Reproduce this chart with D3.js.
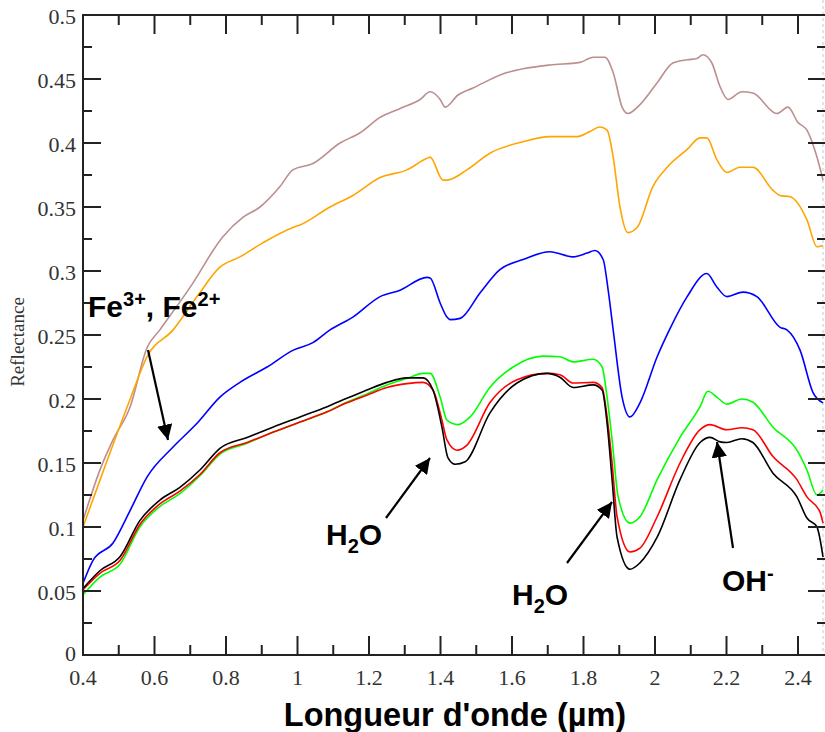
<!DOCTYPE html>
<html>
<head>
<meta charset="utf-8">
<script src="https://cdn.jsdelivr.net/npm/d3@7"></script>
<style>
	body { margin: 0; background: #fff; }
	svg { display: block; }
	.tick-label { font-family: "Liberation Serif", "Times New Roman", serif; font-size: 22px; fill: #333; }
	.note { font-family: "Liberation Sans", Arial, sans-serif; font-weight: 700; fill: #000; }
</style>
</head>
<body>
<div id="chart"></div>
<script>
// spectra: [wavelength (µm), reflectance]
const brown = [
	[0.4, 0.105], [0.448, 0.145], [0.484, 0.168], [0.532, 0.194], [0.579, 0.24], [0.615, 0.254],
	[0.699, 0.287], [0.792, 0.327], [0.848, 0.342], [0.895, 0.35], [0.951, 0.366], [0.987, 0.379],
	[1.043, 0.384], [1.119, 0.4], [1.175, 0.408], [1.231, 0.42], [1.287, 0.427], [1.343, 0.434],
	[1.371, 0.44], [1.399, 0.434], [1.413, 0.428], [1.449, 0.4375], [1.491, 0.443], [1.586, 0.455],
	[1.631, 0.458], [1.706, 0.461], [1.79, 0.463], [1.827, 0.467], [1.86, 0.467], [1.883, 0.455],
	[1.908, 0.428], [1.924, 0.423], [1.958, 0.43], [2.006, 0.447], [2.05, 0.4625], [2.09, 0.465],
	[2.117, 0.466], [2.134, 0.469], [2.159, 0.4625], [2.182, 0.444], [2.204, 0.434], [2.243, 0.44],
	[2.274, 0.439], [2.341, 0.423], [2.372, 0.428], [2.4, 0.416], [2.425, 0.41], [2.453, 0.389],
	[2.47, 0.371]
];
const orange = [
	[0.4, 0.1], [0.448, 0.137], [0.532, 0.2], [0.579, 0.233], [0.652, 0.254], [0.719, 0.28],
	[0.783, 0.303], [0.839, 0.311], [0.903, 0.322], [0.987, 0.334], [1.007, 0.336], [1.091, 0.35],
	[1.155, 0.359], [1.231, 0.373], [1.306, 0.379], [1.362, 0.388], [1.371, 0.389], [1.407, 0.371],
	[1.418, 0.371], [1.474, 0.379], [1.538, 0.392], [1.631, 0.401], [1.706, 0.405], [1.782, 0.405],
	[1.818, 0.409], [1.846, 0.4125], [1.866, 0.41], [1.883, 0.389], [1.902, 0.35], [1.924, 0.33],
	[1.95, 0.334], [1.994, 0.366], [2.034, 0.381], [2.09, 0.395], [2.126, 0.404], [2.145, 0.404],
	[2.173, 0.387], [2.201, 0.377], [2.238, 0.381], [2.274, 0.381], [2.33, 0.363], [2.35, 0.359],
	[2.378, 0.358], [2.425, 0.34], [2.453, 0.319], [2.47, 0.32]
];
const blue = [
	[0.4, 0.056], [0.428, 0.074], [0.484, 0.0875], [0.532, 0.113], [0.579, 0.139], [0.652, 0.1625],
	[0.719, 0.181], [0.783, 0.2015], [0.839, 0.213], [0.915, 0.225], [0.987, 0.238], [1.043, 0.244],
	[1.091, 0.254], [1.155, 0.264], [1.231, 0.28], [1.287, 0.285], [1.362, 0.295], [1.371, 0.2945],
	[1.399, 0.275], [1.418, 0.264], [1.427, 0.262], [1.455, 0.263], [1.511, 0.283], [1.566, 0.301],
	[1.631, 0.309], [1.706, 0.315], [1.771, 0.311], [1.81, 0.314], [1.832, 0.316], [1.855, 0.309],
	[1.869, 0.285], [1.883, 0.254], [1.908, 0.2015], [1.93, 0.186], [1.958, 0.197], [2.006, 0.233],
	[2.042, 0.255], [2.09, 0.28], [2.145, 0.298], [2.173, 0.2875], [2.201, 0.28], [2.246, 0.2835],
	[2.285, 0.28], [2.35, 0.256], [2.369, 0.254], [2.406, 0.238], [2.442, 0.205], [2.47, 0.197]
];
const green = [
	[0.4, 0.047], [0.448, 0.061], [0.504, 0.071], [0.559, 0.1], [0.615, 0.116], [0.671, 0.126],
	[0.727, 0.14], [0.783, 0.157], [0.859, 0.1655], [0.931, 0.174], [1.007, 0.182], [1.083, 0.19],
	[1.138, 0.1975], [1.194, 0.204], [1.25, 0.211], [1.306, 0.216], [1.351, 0.22], [1.371, 0.22],
	[1.399, 0.2015], [1.418, 0.1835], [1.449, 0.18], [1.483, 0.186], [1.538, 0.209], [1.603, 0.225],
	[1.687, 0.2335], [1.734, 0.233], [1.771, 0.229], [1.827, 0.231], [1.852, 0.225], [1.866, 0.2015],
	[1.88, 0.168], [1.897, 0.1235], [1.93, 0.103], [1.958, 0.108], [2.006, 0.137], [2.07, 0.17],
	[2.126, 0.194], [2.148, 0.206], [2.173, 0.2015], [2.201, 0.196], [2.243, 0.2], [2.274, 0.1975],
	[2.33, 0.178], [2.397, 0.16], [2.425, 0.1445], [2.453, 0.125], [2.47, 0.129]
];
const red = [
	[0.4, 0.051], [0.448, 0.064], [0.504, 0.074], [0.559, 0.102], [0.615, 0.118], [0.671, 0.128],
	[0.727, 0.141], [0.783, 0.158], [0.859, 0.166], [0.931, 0.174], [1.007, 0.182], [1.083, 0.19],
	[1.138, 0.197], [1.194, 0.203], [1.25, 0.209], [1.306, 0.212], [1.351, 0.213], [1.379, 0.207],
	[1.404, 0.1835], [1.418, 0.168], [1.446, 0.16], [1.474, 0.164], [1.538, 0.197], [1.614, 0.215],
	[1.698, 0.22], [1.734, 0.219], [1.771, 0.2125], [1.827, 0.213], [1.852, 0.209], [1.866, 0.186],
	[1.88, 0.15], [1.894, 0.108], [1.93, 0.0805], [1.958, 0.0835], [2.006, 0.108], [2.07, 0.15],
	[2.126, 0.176], [2.154, 0.18], [2.201, 0.176], [2.243, 0.1775], [2.274, 0.176], [2.33, 0.155],
	[2.397, 0.137], [2.425, 0.1235], [2.461, 0.112], [2.47, 0.103]
];
const black = [
	[0.4, 0.052], [0.448, 0.066], [0.504, 0.077], [0.559, 0.105], [0.615, 0.121], [0.671, 0.131],
	[0.727, 0.1445], [0.783, 0.1615], [0.859, 0.17], [0.931, 0.178], [1.007, 0.186], [1.083, 0.194],
	[1.138, 0.2005], [1.194, 0.207], [1.25, 0.213], [1.306, 0.2165], [1.351, 0.2165], [1.379, 0.207],
	[1.404, 0.178], [1.421, 0.154], [1.441, 0.149], [1.469, 0.151], [1.538, 0.189], [1.614, 0.2125],
	[1.698, 0.22], [1.734, 0.217], [1.771, 0.209], [1.827, 0.211], [1.852, 0.207], [1.866, 0.181],
	[1.88, 0.137], [1.894, 0.092], [1.93, 0.067], [1.958, 0.072], [2.006, 0.092], [2.07, 0.137],
	[2.126, 0.166], [2.154, 0.17], [2.182, 0.1665], [2.201, 0.166], [2.243, 0.169], [2.274, 0.166],
	[2.33, 0.142], [2.397, 0.1235], [2.425, 0.107], [2.453, 0.1], [2.47, 0.0765]
];

const series = [
	{name: "brown", values: brown, colour: "#bc8f8f"},
	{name: "orange", values: orange, colour: "#ffa500"},
	{name: "blue", values: blue, colour: "#0000ff"},
	{name: "green", values: green, colour: "#00ff00"},
	{name: "red", values: red, colour: "#ff0000"},
	{name: "black", values: black, colour: "#000000"},
];

const xTicks = [0.4, 0.6, 0.8, 1, 1.2, 1.4, 1.6, 1.8, 2, 2.2, 2.4];
const yTicks = [0, 0.05, 0.1, 0.15, 0.2, 0.25, 0.3, 0.35, 0.4, 0.45, 0.5];

const width = 825;
const height = 732;
const plotLeft = 83;
const plotTop = 15;
const plotBottom = 655;
const plotRight = 826;

const x = d3.scaleLinear().domain([0.4, 2.4]).range([plotLeft, 798]);
const y = d3.scaleLinear().domain([0, 0.5]).range([plotBottom, plotTop]);

const svg = d3.select("#chart")
	.append("svg")
	.attr("width", width)
	.attr("height", height);

// selection marker on the right edge
svg.append("line")
	.attr("x1", 823).attr("x2", 823)
	.attr("y1", 0).attr("y2", plotBottom)
	.attr("stroke", "#a8d8d0")
	.attr("stroke-dasharray", "3,3");

// spectra
const line = d3.line()
	.x((d) => x(d[0]))
	.y((d) => y(d[1]))
	.curve(d3.curveMonotoneX);

svg.append("g")
	.selectAll("path")
	.data(series)
	.enter()
	.append("path")
	.attr("fill", "none")
	.attr("stroke", (d) => d.colour)
	.attr("stroke-width", 1.6)
	.attr("d", (d) => line(d.values));

// frame with inward ticks on all sides
const frameColour = "#222";
const frame = svg.append("g");

const xMinor = d3.range(0.5, 2.5, 0.2);
const yMinor = d3.range(0.025, 0.5, 0.05);

function addTicks(values, len, axis) {
	values.forEach((v) => {
		if (axis === "x") {
			frame.append("line").attr("x1", x(v)).attr("x2", x(v)).attr("y1", plotBottom).attr("y2", plotBottom - len)
				.attr("stroke", frameColour).attr("stroke-width", 2);
			frame.append("line").attr("x1", x(v)).attr("x2", x(v)).attr("y1", plotTop).attr("y2", plotTop + len)
				.attr("stroke", frameColour).attr("stroke-width", 2);
		} else {
			frame.append("line").attr("x1", plotLeft).attr("x2", plotLeft + len).attr("y1", y(v)).attr("y2", y(v))
				.attr("stroke", frameColour).attr("stroke-width", 2);
			frame.append("line").attr("x1", plotRight).attr("x2", plotRight - len).attr("y1", y(v)).attr("y2", y(v))
				.attr("stroke", frameColour).attr("stroke-width", 2);
		}
	});
}
addTicks(xTicks, 19, "x");
addTicks(xMinor, 10, "x");
addTicks(yTicks, 18, "y");
addTicks(yMinor, 9, "y");

frame.append("rect")
	.attr("x", plotLeft).attr("y", plotTop)
	.attr("width", plotRight - plotLeft).attr("height", plotBottom - plotTop)
	.attr("fill", "none")
	.attr("stroke", frameColour)
	.attr("stroke-width", 2);

// tick labels
svg.append("g")
	.selectAll("text")
	.data(xTicks)
	.enter()
	.append("text")
	.attr("class", "tick-label")
	.attr("x", (d) => x(d))
	.attr("y", 685)
	.attr("text-anchor", "middle")
	.text((d) => d);

svg.append("g")
	.selectAll("text")
	.data(yTicks)
	.enter()
	.append("text")
	.attr("class", "tick-label")
	.attr("x", 76)
	.attr("y", (d) => y(d) + (d === 0 ? 6 : 9))
	.attr("text-anchor", "end")
	.text((d) => d);

// axis titles
svg.append("text")
	.attr("transform", "translate(24,342) rotate(-90)")
	.attr("text-anchor", "middle")
	.style("font-family", '"Liberation Serif", "Times New Roman", serif')
	.style("font-size", "19px")
	.attr("fill", "#333")
	.text("Reflectance");

svg.append("text")
	.attr("class", "note")
	.attr("x", 455)
	.attr("y", 726)
	.attr("text-anchor", "middle")
	.style("font-size", "32.5px")
	.text("Longueur d'onde (µm)");

// annotations
svg.append("defs").append("marker")
	.attr("id", "head")
	.attr("viewBox", "0 0 10 10")
	.attr("refX", 10).attr("refY", 5)
	.attr("markerWidth", 7).attr("markerHeight", 7)
	.attr("markerUnits", "strokeWidth")
	.attr("orient", "auto")
	.append("path")
	.attr("d", "M0,0 L10,5 L0,10 Z")
	.attr("fill", "#000");

const arrows = [
	[[148, 350], [168, 440]],
	[[386, 518], [430, 458]],
	[[567, 563], [612, 502]],
	[[733, 548], [717, 442]],
];
svg.append("g")
	.selectAll("line")
	.data(arrows)
	.enter()
	.append("line")
	.attr("x1", (d) => d[0][0]).attr("y1", (d) => d[0][1])
	.attr("x2", (d) => d[1][0]).attr("y2", (d) => d[1][1])
	.attr("stroke", "#000")
	.attr("stroke-width", 2.2)
	.attr("marker-end", "url(#head)");

function note(px, py, parts) {
	const t = svg.append("text").attr("class", "note").attr("x", px).attr("y", py).style("font-size", "30px");
	parts.forEach((p) => {
		const s = t.append("tspan").text(p.text);
		if (p.sup) s.style("font-size", "20px").attr("dy", -11);
		if (p.sub) s.style("font-size", "20px").attr("dy", 8);
		if (p.back) s.attr("dy", p.back);
	});
}
note(88, 317, [
	{text: "Fe"}, {text: "3+", sup: true}, {text: ", Fe", back: 11}, {text: "2+", sup: true},
]);
note(326, 545, [{text: "H"}, {text: "2", sub: true}, {text: "O", back: -8}]);
note(512, 605, [{text: "H"}, {text: "2", sub: true}, {text: "O", back: -8}]);
note(722, 591, [{text: "OH"}, {text: "-", sup: true}]);
</script>
</body>
</html>
